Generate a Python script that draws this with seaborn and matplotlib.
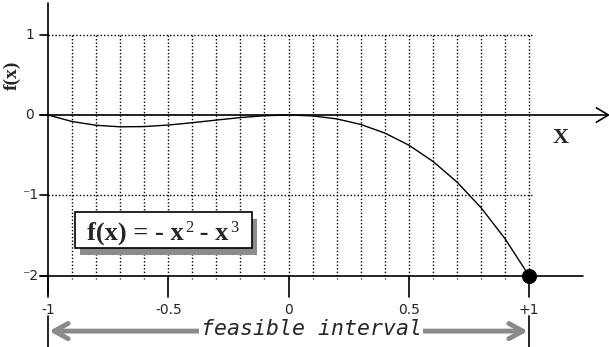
import matplotlib
matplotlib.use("Agg")
import matplotlib.pyplot as plt
import pandas as pd
import seaborn as sns
from matplotlib.patches import Rectangle

# values: f(x) = -x^2 - x^3 on [-1, 1]
x_vals = [-1.0, -0.9, -0.8, -0.7, -0.6, -0.5, -0.4, -0.3, -0.2, -0.1, 0.0,
          0.1, 0.2, 0.3, 0.4, 0.5, 0.6, 0.7, 0.8, 0.9, 1.0]
f_vals = [0.0, -0.081, -0.128, -0.147, -0.144, -0.125, -0.096, -0.063, -0.032,
          -0.009, 0.0, -0.011, -0.048, -0.117, -0.224, -0.375, -0.576, -0.833,
          -1.152, -1.539, -2.0]
grid_x = [-0.9, -0.8, -0.7, -0.6, -0.5, -0.4, -0.3, -0.2, -0.1, 0.0,
          0.1, 0.2, 0.3, 0.4, 0.5, 0.6, 0.7, 0.8, 0.9, 1.0]
grid_y = [1, -1]
ytick_vals = [1, 0, -1, -2]
ytick_labels = ["1", "0", "\u207b1", "\u207b2"]
xtick_vals = [-1, -0.5, 0, 0.5, 1]
xtick_labels = ["-1", "-0.5", "0", "0.5", "+1"]
endpoint_x = [1.0]
endpoint_y = [-2.0]

sns.set_style("white")

fig = plt.figure(figsize=(6.09, 3.47), dpi=100)
ax = fig.add_axes([0, 0, 1, 1])

# dotted grid
for gx in grid_x:
    ax.plot([gx, gx], [1, -2.04], color="black", lw=1, ls=(0, (1, 1.5)), zorder=1)
for gy in grid_y:
    ax.plot([-1, 1.02], [gy, gy], color="black", lw=1, ls=(0, (1, 1.5)), zorder=1)

# axes
ax.plot([-1, -1], [1.39, -2.23], color="black", lw=1.2, zorder=2)
ax.plot([-1.033, 1.33], [0, 0], color="black", lw=1.2, zorder=2)
ax.plot([1.28, 1.33, 1.28], [0.09, 0, -0.09], color="black", lw=1.2, zorder=2)
ax.plot([-1.033, 1.225], [-2, -2], color="black", lw=1.2, zorder=2)
for yv, lab in zip(ytick_vals, ytick_labels):
    ax.plot([-1.033, -1], [yv, yv], color="black", lw=1.2)
    ax.text(-1.075, yv, lab, ha="center", va="center", fontsize=10,
            family="DejaVu Sans")
for xv, lab in zip(xtick_vals, xtick_labels):
    ax.plot([xv, xv], [-2, -2.26], color="black", lw=1.2)
    ax.text(xv, -2.43, lab, ha="center", va="center", fontsize=10,
            family="DejaVu Sans")

ax.text(-1.15, 0.5, "f(x)", rotation=90, ha="center", va="center",
        fontsize=14, fontweight="bold", family="Liberation Serif")
ax.text(1.13, -0.29, "X", ha="center", va="center", fontsize=16,
        fontweight="bold", family="Liberation Serif")

# curve and end point
curve = pd.DataFrame({"x": x_vals, "f": f_vals})
sns.lineplot(data=curve, x="x", y="f", color="black", lw=1, ax=ax, zorder=3)
sns.scatterplot(x=endpoint_x, y=endpoint_y, color="black", s=100,
                edgecolor="black", ax=ax, zorder=4)
ax.set_xlim(-1.1996, 1.3326)
ax.set_ylim(-2.888, 1.4316)
ax.axis("off")

# formula box with shadow
ax.add_patch(Rectangle((-0.867, -1.743), 0.736, 0.449, facecolor="#8c8c8c",
                       edgecolor="none", zorder=4))
ax.add_patch(Rectangle((-0.888, -1.656), 0.736, 0.449, facecolor="white",
                       edgecolor="black", lw=1.2, zorder=5))
base_y = -1.556
bold = dict(fontsize=19, fontweight="bold", family="Liberation Serif",
            va="baseline", zorder=6)
sup = dict(fontsize=12, family="Liberation Serif", va="baseline", zorder=6)
t1 = ax.text(-0.838, base_y, "f(x) = - x", **bold)
t2 = ax.annotate("2", xy=(1, base_y), xycoords=(t1, "data"),
                 xytext=(1, 6), textcoords="offset points", **sup)
t3 = ax.annotate(" - x", xy=(1, base_y), xycoords=(t2, "data"),
                 xytext=(0, 0), textcoords="offset points", **bold)
ax.annotate("3", xy=(1, base_y), xycoords=(t3, "data"),
            xytext=(1, 6), textcoords="offset points", **sup)

# feasible interval arrow
ax.annotate("", xy=(-0.995, -2.69), xytext=(0.995, -2.69),
            arrowprops=dict(arrowstyle="<->,head_length=1.0,head_width=0.55",
                            color="#8a8a8a", lw=3.5, shrinkA=0, shrinkB=0),
            zorder=3)
ax.text(0.094, -2.66, "feasible interval", ha="center", va="center",
        fontsize=15.5, style="italic", family="DejaVu Sans Mono", zorder=4,
        bbox=dict(facecolor="white", edgecolor="none", pad=1))
for xv in [-1, 1]:
    ax.plot([xv, xv], [-2.5, -2.888], color="black", lw=1.2, zorder=5)

fig.savefig("out.png", dpi=100)
